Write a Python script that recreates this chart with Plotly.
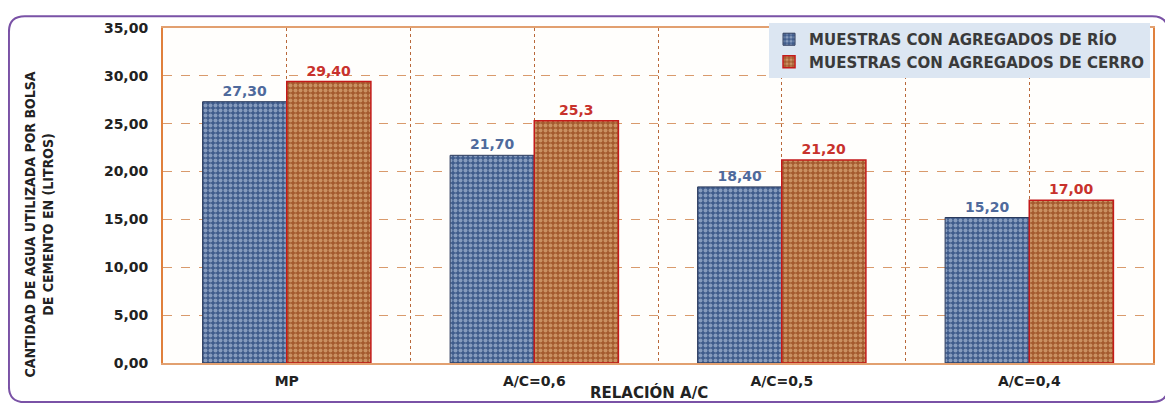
import plotly.graph_objs as go

# Data
categories = ['MP', 'A/C=0,6', 'A/C=0,5', 'A/C=0,4']
rio = [27.30, 21.70, 18.40, 15.20]
cerro = [29.40, 25.30, 21.20, 17.00]
rio_labels = ['27,30', '21,70', '18,40', '15,20']
cerro_labels = ['29,40', '25,3', '21,20', '17,00']
y_ticks = [0, 5, 10, 15, 20, 25, 30, 35]

wide = 'DejaVu Sans, Verdana, sans-serif'
narrow = 'Liberation Sans Narrow, DejaVu Sans Condensed, Arial Narrow, sans-serif'
xpos = list(range(len(categories)))

bars = [
    go.Bar(name='MUESTRAS CON AGREGADOS DE RÍO',
           x=xpos, y=rio,
           text=rio_labels, textposition='outside',
           textfont=dict(family=wide, size=14, color='#4f6a9c', weight='bold'),
           marker=dict(color='#44608f',
                       line=dict(color='#2b3a5c', width=1),
                       pattern=dict(shape='.', bgcolor='#3f5b8b',
                                    fgcolor='#cddbf0', size=5, solidity=0.5))),
    go.Bar(name='MUESTRAS CON AGREGADOS DE CERRO',
           x=xpos, y=cerro,
           text=cerro_labels, textposition='outside',
           textfont=dict(family=wide, size=14, color='#c8322c', weight='bold'),
           marker=dict(color='#a85a30',
                       line=dict(color='#c41a1a', width=1.5),
                       pattern=dict(shape='.', bgcolor='#a45a2e',
                                    fgcolor='#f0c796', size=5, solidity=0.5))),
]

# rounded purple frame around the whole chart (paper coords)
x0, x1 = -0.1556, 1.0152
y0, y1 = -0.1166, 1.035
rx, ry = 0.016, 0.046
frame = ('M {a},{t} L {b},{t} Q {x1},{y1} {x1},{c} L {x1},{d} Q {x1},{y0} {b},{y0} '
         'L {a},{y0} Q {x0},{y0} {x0},{d} L {x0},{c} Q {x0},{y1} {a},{t} Z').format(
    a=x0 + rx, b=x1 - rx, t=y1, c=y1 - ry, d=y0 + ry,
    x0=x0, x1=x1, y0=y0, y1=y1)

# the page body adds an 8px offset, margins account for it
layout = go.Layout(
    width=1173, height=407,
    margin=dict(l=155, r=28, t=12, b=52),
    paper_bgcolor='white',
    plot_bgcolor='#fffefc',
    separators=',.',
    barmode='group', bargap=0.32, bargroupgap=0,
    showlegend=True,
    legend=dict(x=0.997, xanchor='right', y=1.015, yanchor='top',
                bgcolor='#dce6f2', borderwidth=0,
                font=dict(family=wide, size=15, color='#3a3a3a', weight='bold'),
                itemwidth=30),
    xaxis=dict(range=[-0.5, 3.5], tickmode='array', tickvals=xpos,
               ticktext=categories,
               tickfont=dict(family=wide, size=14, color='#222', weight='bold'),
               ticklabelstandoff=4,
               showgrid=True, gridcolor='#b8683a', griddash='dot', gridwidth=1,
               minor=dict(tickmode='array', tickvals=[0.5, 1.5, 2.5],
                          showgrid=True, gridcolor='#b8683a', griddash='dot',
                          gridwidth=1),
               showline=True, linecolor='#e2a070', linewidth=2, mirror=True,
               zeroline=False),
    yaxis=dict(range=[0, 35], tickmode='array', tickvals=y_ticks,
               tickformat='.2f',
               tickfont=dict(family=wide, size=14, color='#222', weight='bold'),
               ticklabelstandoff=10,
               showgrid=True, gridcolor='#d99a6c', griddash='dash', gridwidth=1,
               showline=True, linecolor='#e0803c', linewidth=2, mirror=True,
               zeroline=False),
    annotations=[
        dict(text='CANTIDAD DE AGUA UTILIZADA POR BOLSA<br>DE CEMENTO EN (LITROS)',
             xref='paper', yref='paper', x=-0.125, y=0.414,
             xanchor='center', yanchor='middle',
             textangle=-90, showarrow=False,
             font=dict(family=narrow, size=14, color='#222', weight='bold')),
        dict(text='RELACIÓN A/C', xref='paper', yref='paper',
             x=0.491, y=-0.087, xanchor='center', yanchor='middle',
             showarrow=False,
             font=dict(family=wide, size=15, color='#222', weight='bold')),
    ],
    shapes=[dict(type='path', xref='paper', yref='paper', path=frame,
                 line=dict(color='#7a52a6', width=2), layer='below')],
)

fig = go.Figure(data=bars, layout=layout)
fig.write_html('out.html')
